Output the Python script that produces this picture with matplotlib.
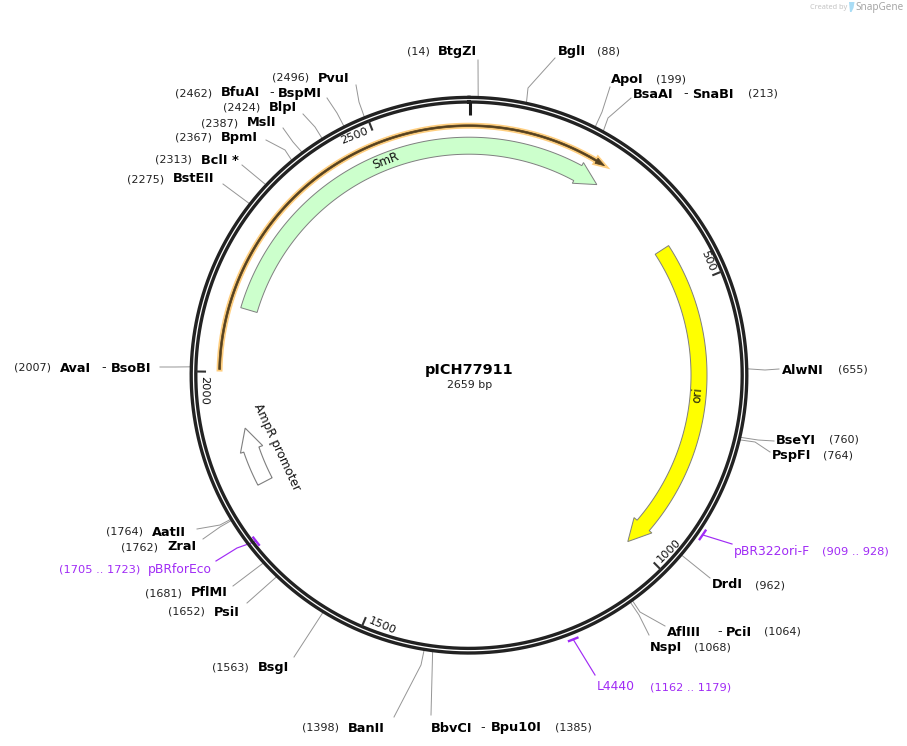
import numpy as np
import matplotlib
matplotlib.use("Agg")
import matplotlib.pyplot as plt
from matplotlib.patches import Polygon

plt.rcParams['font.family'] = ['DejaVu Sans']

# plasmid
PLASMID_NAME = "pICH77911"
PLASMID_LEN = 2659
TICK_POS = [500, 1000, 1500, 2000, 2500]

# restriction sites
SITE_NAMES = ["BtgZI", "BglI", "ApoI", "BsaAI", "AlwNI", "BseYI", "PspFI", "DrdI", "AflIII", "NspI",
              "BbvCI", "BanII", "BsgI", "PsiI", "PflMI", "ZraI", "AatII", "AvaI", "BstEII", "BclI *",
              "BpmI", "MslI", "BlpI", "BfuAI", "PvuI"]
SITE_POS = [14, 88, 199, 213, 655, 760, 764, 962, 1064, 1068,
            1385, 1398, 1563, 1652, 1681, 1762, 1764, 2007, 2275, 2313,
            2367, 2387, 2424, 2462, 2496]
SITE_SECOND = {"BsaAI": "SnaBI", "AflIII": "PciI", "BbvCI": "Bpu10I", "AvaI": "BsoBI", "BfuAI": "BspMI"}

# primers: name, start, end
PRIMER_NAMES = ["pBR322ori-F", "L4440", "pBRforEco"]
PRIMER_START = [909, 1162, 1705]
PRIMER_END = [928, 1179, 1723]

# features, arrow goes tail -> tip
SMR_TAIL, SMR_TIP = 2116, 250
ORI_TAIL, ORI_TIP = 421, 1007
AMPR_TAIL, AMPR_TIP = 1791, 1896
ORANGE_TAIL, ORANGE_TIP = 2004, 243

# layout, in pixels of the 907x746 picture
CX, CY = 469.0, 375.2
# site: (x of number, x of name, y, [x of dash, x of second name])
SITE_TEXT_XY = {
    "BtgZI": (407, 438, 52), "BglI": (597, 558, 52), "ApoI": (656, 611, 79),
    "BsaAI": (748, 633, 94, 683, 692), "AlwNI": (838, 782, 370), "BseYI": (829, 776, 440),
    "PspFI": (823, 772, 455), "DrdI": (755, 712, 585), "AflIII": (764, 667, 632, 717, 726),
    "NspI": (694, 650, 647), "BbvCI": (555, 431, 728, 480, 491), "BanII": (302, 348, 728),
    "BsgI": (212, 258, 667), "PsiI": (168, 214, 612), "PflMI": (145, 191, 593),
    "ZraI": (121, 167, 547), "AatII": (106, 152, 532), "AvaI": (14, 60, 368, 101, 111),
    "BstEII": (127, 173, 179), "BclI *": (155, 201, 160), "BpmI": (175, 221, 138),
    "MslI": (201, 247, 123), "BlpI": (223, 269, 108), "BfuAI": (175, 221, 93, 269, 278),
    "PvuI": (272, 318, 78),
}
# leader bends after leaving the ring
SITE_LEADER = {
    "BtgZI": [(478, 60)], "BglI": [(528, 88), (555, 58)], "ApoI": [(602, 112), (610, 87)],
    "BsaAI": [(608, 118), (631, 98)], "AlwNI": [(765, 370), (779, 369)],
    "BseYI": [(758, 440), (774, 441)], "PspFI": [(755, 442), (770, 452)], "DrdI": [(710, 578)],
    "AflIII": [(640, 612), (665, 626)], "NspI": [(639, 615), (649, 635)], "BbvCI": [(431, 715)],
    "BanII": [(421, 665), (394, 717)], "BsgI": [(294, 657)], "PsiI": [(247, 603)],
    "PflMI": [(233, 586)], "ZraI": [(220, 527), (203, 539)], "AatII": [(220, 525), (197, 529)],
    "AvaI": [(175, 367), (160, 367)], "BstEII": [(223, 184)], "BclI *": [(242, 165)],
    "BpmI": [(285, 150), (266, 140)], "MslI": [(293, 142), (283, 128)],
    "BlpI": [(315, 127), (303, 114)], "BfuAI": [(337, 113), (327, 98)],
    "PvuI": [(359, 102), (356, 85)],
}
PRIMER_TEXT_XY = {"pBR322ori-F": (734, 822, 551), "L4440": (597, 650, 687), "pBRforEco": (148, 59, 569)}
PRIMER_RADIUS = {"pBR322ori-F": 283, "L4440": 284, "pBRforEco": 270}
PRIMER_LEADER = {"pBR322ori-F": [(732, 544)], "L4440": [(595, 675)], "pBRforEco": [(237, 548), (216, 561)]}

PURPLE = "#a02bf5"
GRAY = "#959595"
RING = "#222222"
EDGE = "#7f7f7f"


def bp_angle(bp):
    return np.deg2rad(bp / PLASMID_LEN * 360.0)


def bp_xy(bp, r):
    a = bp_angle(bp)
    return CX + r * np.sin(a), CY - r * np.cos(a)


def arc_xy(start, end, r, n=200):
    return bp_xy(np.linspace(start, end, n), r)


def arrow_poly(tail, tip, r_in, r_out, head_bp, r_head_in, r_head_out):
    # walks forward or backward depending on the sign of tip - tail
    sign = 1 if tip > tail else -1
    base = tip - sign * head_bp
    ox, oy = arc_xy(tail, base, r_out)
    ix, iy = arc_xy(base, tail, r_in)
    pts = list(zip(ox, oy))
    pts.append(bp_xy(base, r_head_out))
    pts.append(bp_xy(tip, (r_in + r_out) / 2))
    pts.append(bp_xy(base, r_head_in))
    pts += list(zip(ix, iy))
    return pts


fig = plt.figure(figsize=(9.07, 7.46), dpi=100)
ax = fig.add_axes([0, 0, 1, 1])
ax.set_xlim(0, 907)
ax.set_ylim(746, 0)
ax.axis('off')

# leaders go under the ring
for name, pos in zip(SITE_NAMES, SITE_POS):
    x0, y0 = bp_xy(pos, 278)
    pts = [(x0, y0)] + SITE_LEADER[name]
    ax.plot([p[0] for p in pts], [p[1] for p in pts], color=GRAY, lw=0.7, zorder=1)

for name, s, e in zip(PRIMER_NAMES, PRIMER_START, PRIMER_END):
    r = PRIMER_RADIUS[name]
    x0, y0 = bp_xy((s + e) / 2, r)
    pts = [(x0, y0)] + PRIMER_LEADER[name]
    ax.plot([p[0] for p in pts], [p[1] for p in pts], color=PURPLE, lw=0.85, zorder=1)

# ring
t = np.linspace(0, PLASMID_LEN, 720)
for r in (277.8, 273.2):
    rx, ry = bp_xy(t, r)
    ax.plot(rx, ry, color=RING, lw=2.4, zorder=3)

# primers marks
for name, s, e in zip(PRIMER_NAMES, PRIMER_START, PRIMER_END):
    px, py = arc_xy(s, e, PRIMER_RADIUS[name], n=20)
    ax.plot(px, py, color=PURPLE, lw=1.7, zorder=4, solid_capstyle='butt')

# ticks
x0, y0 = bp_xy(0, 273)
x1, y1 = bp_xy(0, 260)
ax.plot([x0 + 0.5, x1 + 0.5], [y0, y1], color="#1c1c1c", lw=2.2, zorder=4, solid_capstyle='butt')
for pos in TICK_POS:
    x0, y0 = bp_xy(pos, 273)
    x1, y1 = bp_xy(pos, 263)
    ax.plot([x0, x1], [y0, y1], color="#333333", lw=1.5, zorder=4, solid_capstyle='butt')
    deg = pos / PLASMID_LEN * 360.0
    if deg < 90 or deg > 300:
        rot, ha = -deg, 'right'
    else:
        rot, ha = 180 - deg, 'left'
    # label starts a little before the tick, going counterclockwise
    tx, ty = bp_xy(pos - 7, 265)
    ax.text(tx, ty, str(pos), fontsize=8.2, rotation=rot, rotation_mode='anchor',
            ha=ha, va='center', color="#111111", zorder=5)

# features
smr = arrow_poly(SMR_TAIL, SMR_TIP + PLASMID_LEN, 221, 238, 41, 218, 241.5)
ax.add_patch(Polygon(smr, closed=True, fc="#ccffcc", ec=EDGE, lw=0.7, zorder=2))
ori = arrow_poly(ORI_TAIL, ORI_TIP, 222, 238, 41, 218, 241.5)
ax.add_patch(Polygon(ori, closed=True, fc="#ffff00", ec=EDGE, lw=0.7, zorder=2))
ampr = arrow_poly(AMPR_TAIL, AMPR_TIP, 222, 238, 41, 218, 241.5)
ax.add_patch(Polygon(ampr, closed=True, fc="white", ec=EDGE, lw=0.8, zorder=2))
orange = arrow_poly(ORANGE_TAIL, ORANGE_TIP + PLASMID_LEN, 248.6, 250.4, 16, 246.5, 252.5)
ax.add_patch(Polygon(orange, closed=True, fc="#ffcf80", ec="#ffcf80", lw=3.0, zorder=2))
ax.add_patch(Polygon(orange, closed=True, fc="#54401f", ec="#54401f", lw=0.5, zorder=2.5))

ax.text(386, 161, "SmR", fontsize=8.6, rotation=21, ha='center', va='center', color="#111111", zorder=5)
ax.text(698, 395, "ori", fontsize=8.6, rotation=85, ha='center', va='center', color="#111111", zorder=5)
ax.text(277, 447, "AmpR promoter", fontsize=8.6, rotation=-65, ha='center', va='center', color="#111111", zorder=5)

# site labels
for name, pos in zip(SITE_NAMES, SITE_POS):
    xy = SITE_TEXT_XY[name]
    ax.text(xy[0], xy[2], f"({pos})", fontsize=8.0, ha='left', va='center', color="#222222")
    ax.text(xy[1], xy[2], name, fontsize=9.3, fontweight='bold', ha='left', va='center', color="black")
    if name in SITE_SECOND:
        ax.text(xy[3], xy[2], "-", fontsize=9.3, ha='left', va='center', color="#222222")
        ax.text(xy[4], xy[2], SITE_SECOND[name], fontsize=9.3, fontweight='bold', ha='left', va='center', color="black")

for name, s, e in zip(PRIMER_NAMES, PRIMER_START, PRIMER_END):
    nx, rx, y = PRIMER_TEXT_XY[name]
    ax.text(nx, y, name, fontsize=8.9, ha='left', va='center', color=PURPLE)
    ax.text(rx, y, f"({s} .. {e})", fontsize=8.2, ha='left', va='center', color=PURPLE)

# centre
ax.text(469, 370, PLASMID_NAME, fontsize=10.4, fontweight='bold', ha='center', va='center', color="black")
ax.text(469.5, 385, f"{PLASMID_LEN} bp", fontsize=7.9, ha='center', va='center', color="#222222")

# watermark
ax.text(810, 7.5, "Created by", fontsize=5.3, ha='left', va='center', color="#c4c4c4", family='Noto Sans')
ax.add_patch(Polygon([(849, 2), (854.5, 2), (853.5, 8), (851.5, 12), (850, 12)], closed=True, fc="#a9dcf5", ec='none'))
ax.text(855, 7.5, "SnapGene", fontsize=7.2, ha='left', va='center', color="#a6a6a6", family='Noto Sans')

fig.savefig("out.png", dpi=100)
